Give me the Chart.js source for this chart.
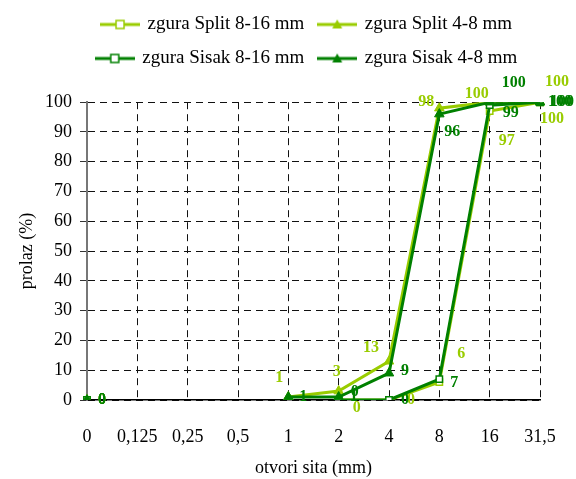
<!DOCTYPE html>
<html lang="hr">

<head>
    <title>Prolaz zgure</title>
    <script src="https://cdn.jsdelivr.net/npm/chart.js"></script>
    <style>
        body { margin: 0; background: #fff; }
        #wrap { width: 576px; height: 479px; }
    </style>
</head>

<body>
    <div id="wrap"><canvas id="myChart" width="576" height="479"></canvas></div>

    <script type="text/javascript">

        // sieve openings (mm) and passing (%)
        const sieves = ['0', '0,125', '0,25', '0,5', '1', '2', '4', '8', '16', '31,5'];
        const splitCoarse = [0, null, null, null, null, 0, 0, 6, 97, 100];   // zgura Split 8-16 mm
        const splitFine = [0, null, null, null, 1, 3, 13, 98, 100, 100];     // zgura Split 4-8 mm
        const sisakCoarse = [0, null, null, null, null, 0, 0, 7, 99, 100];   // zgura Sisak 8-16 mm
        const sisakFine = [0, null, null, null, 1, 1, 9, 96, 100, 100];      // zgura Sisak 4-8 mm
        const yTicks = [0, 10, 20, 30, 40, 50, 60, 70, 80, 90, 100];

        const LIGHT = '#99cc00';
        const DARK = '#008000';
        const SERIF = '"Liberation Serif", "Times New Roman", serif';

        // where each value label sits relative to its point (px)
        const labelShift = [
            [[15, 0], null, null, null, null, [18, 8], [22, 0], [22, -28], [17, 30], [12, 17]],
            [[15, 0], null, null, null, [-9, -19], [-2, -19], [-18, -13], [-13, -6], [-13, -8], [17, -20]],
            [[15, 0], null, null, null, null, [16, -8], [16, 0], [15, 4], [21, 8], [20, 0]],
            [[15, 0], null, null, null, [15, 0], [15, 0], [16, -2], [13, 18], [24, -19], [22, 0]]
        ];

        // legend swatch: line with marker in the middle
        function swatch(color, shape) {
            const c = document.createElement('canvas');
            c.width = 40; c.height = 12;
            const g = c.getContext('2d');
            g.strokeStyle = color;
            g.lineWidth = 3;
            g.beginPath(); g.moveTo(0, 6); g.lineTo(40, 6); g.stroke();
            if (shape === 'rect') {
                g.fillStyle = '#fff';
                g.lineWidth = 1.5;
                g.fillRect(16, 2, 8, 8);
                g.strokeRect(16, 2, 8, 8);
            } else {
                g.fillStyle = color;
                g.beginPath(); g.moveTo(20, 1); g.lineTo(25, 10); g.lineTo(15, 10); g.closePath(); g.fill();
            }
            return c;
        }

        const valueLabels = {
            id: 'valueLabels',
            afterDatasetsDraw(chart) {
                const { ctx } = chart;
                ctx.save();
                ctx.font = 'bold 16px ' + SERIF;
                ctx.textAlign = 'center';
                ctx.textBaseline = 'middle';
                [0, 1, 2, 3].forEach((di) => {
                    const ds = chart.data.datasets[di];
                    const meta = chart.getDatasetMeta(di);
                    ctx.fillStyle = ds.borderColor;
                    meta.data.forEach((pt, i) => {
                        const v = ds.data[i];
                        const s = labelShift[di][i];
                        if (v === null || !s) return;
                        ctx.fillText(String(v), pt.x + s[0], pt.y + s[1]);
                    });
                });
                ctx.restore();
            }
        };

        // nudge the legend block to the right, as in the original
        const legendShift = {
            id: 'legendShift',
            afterLayout(chart) {
                const lg = chart.legend;
                lg.left += 33;
                lg.right += 33;
            }
        };

        function series(label, data, color, shape, order) {
            return {
                label: label,
                data: data,
                borderColor: color,
                backgroundColor: shape === 'rect' ? '#fff' : color,
                borderWidth: 3,
                pointStyle: shape,
                pointRadius: shape === 'rect' ? 4.5 : 5.5,
                pointBorderWidth: shape === 'rect' ? 1.5 : 1,
                pointBackgroundColor: shape === 'rect' ? '#fff' : color,
                spanGaps: false,
                tension: 0,
                order: order,
                legendSwatch: swatch(color, shape)
            };
        }

        const ctx = document.getElementById('myChart');
        new Chart(ctx, {
            type: 'line',
            data: {
                labels: sieves,
                datasets: [
                    series('zgura Split 8-16 mm', splitCoarse, LIGHT, 'rect', 3),
                    series('zgura Split 4-8 mm', splitFine, LIGHT, 'triangle', 2),
                    series('zgura Sisak 8-16 mm', sisakCoarse, DARK, 'rect', 1),
                    series('zgura Sisak 4-8 mm', sisakFine, DARK, 'triangle', 0)
                ]
            },
            options: {
                responsive: false,
                animation: false,
                layout: { padding: { left: 8, right: 36, top: 0, bottom: 0 } },
                plugins: {
                    tooltip: { enabled: false },
                    title: {
                        display: true,
                        text: ' ',
                        weight: 500,
                        font: { size: 1 },
                        padding: { top: 0, bottom: 23 }
                    },
                    legend: {
                        position: 'top',
                        weight: 1000,
                        labels: {
                            color: '#000',
                            font: { family: SERIF, size: 19 },
                            usePointStyle: true,
                            pointStyleWidth: 36,
                            padding: 15,
                            sort: (a, b) => a.datasetIndex - b.datasetIndex,
                            generateLabels(chart) {
                                return chart.data.datasets.map((ds, i) => ({
                                    text: ds.label,
                                    pointStyle: ds.legendSwatch,
                                    fillStyle: ds.borderColor,
                                    strokeStyle: ds.borderColor,
                                    fontColor: '#000',
                                    lineWidth: 0,
                                    hidden: false,
                                    datasetIndex: i
                                }));
                            }
                        }
                    }
                },
                scales: {
                    x: {
                        type: 'category',
                        offset: false,
                        afterFit(axis) { axis.height = 79; axis.paddingRight = 0; axis.paddingLeft = 0; },
                        grid: { color: '#111', lineWidth: 1, drawTicks: false },
                        border: { color: '#000', width: 1.5, dash: [7, 5] },
                        ticks: { color: '#000', font: { family: SERIF, size: 18 }, padding: 26, maxRotation: 0, autoSkip: false },
                        title: { display: true, text: 'otvori sita (mm)', color: '#000', font: { family: SERIF, size: 18 }, padding: { top: 0, bottom: 0 } }
                    },
                    y: {
                        min: 0,
                        max: 100,
                        afterBuildTicks(axis) { axis.ticks = yTicks.map((v) => ({ value: v })); },
                        afterFit(axis) { axis.width = 79; },
                        grid: { color: '#111', lineWidth: 1, tickLength: 7, tickColor: '#333', tickBorderDash: [] },
                        border: { color: '#777', width: 2, dash: [7, 5] },
                        ticks: { color: '#000', font: { family: SERIF, size: 18 }, padding: 8 },
                        title: { display: true, text: 'prolaz (%)', color: '#000', font: { family: SERIF, size: 18 }, padding: { top: 8, bottom: 0 } }
                    }
                }
            },
            plugins: [valueLabels, legendShift]
        });
    </script>
</body>

</html>
